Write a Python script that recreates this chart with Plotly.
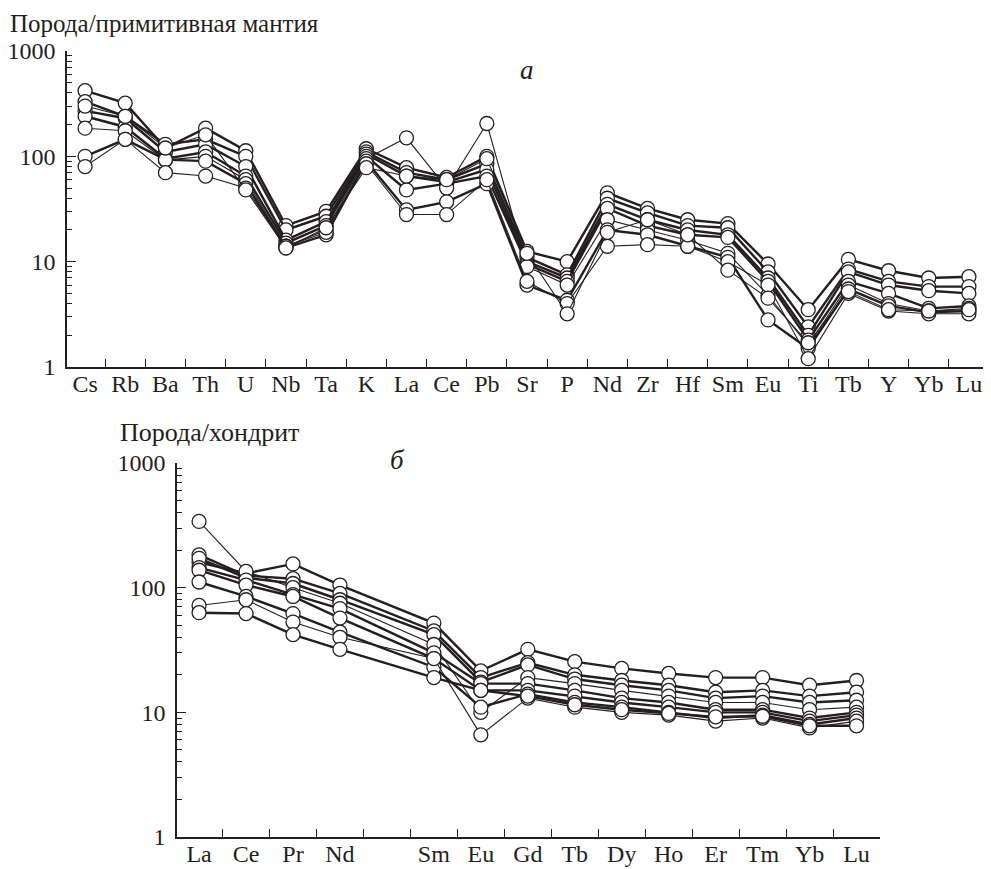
import plotly.graph_objects as go

# ---------------- data: panel а (primitive mantle normalised) ----------------
spider_elements = ["Cs", "Rb", "Ba", "Th", "U", "Nb", "Ta", "K", "La", "Ce", "Pb",
                   "Sr", "P", "Nd", "Zr", "Hf", "Sm", "Eu", "Ti", "Tb", "Y", "Yb", "Lu"]

spider_s1 = [420, 320, 120, 185, 113, 22, 30, 118, 78, 63, 100, 12.5, 10, 45, 32, 25, 23, 9.5, 3.5, 10.5, 8.2, 7.0, 7.2]
spider_s2 = [330, 240, 130, 145, 100, 20, 27, 110, 70, 60, 85, 11, 7.5, 40, 29, 22, 21, 8.0, 2.4, 8.5, 6.5, 5.8, 5.8]
spider_s3 = [270, 230, 110, 130, 80, 16, 24, 105, 65, 57, 75, 10, 7.0, 35, 25, 20, 18, 7.0, 2.0, 8.0, 6.0, 5.3, 5.0]
spider_s4 = [240, 190, 95, 110, 65, 15, 22, 100, 48, 55, 65, 9.5, 6.5, 32, 22, 18, 17, 6.5, 1.8, 6.5, 5.0, 3.6, 3.8]
spider_s5 = [185, 175, 92, 100, 60, 14, 20, 95, 150, 50, 205, 9.0, 6.0, 25, 20, 16, 12, 4.8, 1.6, 6.0, 4.0, 3.4, 3.6]
spider_s6 = [100, 145, 93, 90, 55, 13.5, 18, 90, 31, 37, 55, 6.0, 4.3, 20, 18, 14, 11, 2.8, 1.5, 5.5, 3.8, 3.3, 3.4]
spider_s7 = [80, 145, 70, 65, 50, 14, 19, 85, 28, 28, 60, 6.5, 4.0, 14, 14.5, 14, 10, 6.0, 1.2, 5.0, 3.4, 3.2, 3.2]
spider_s8 = [300, 240, 120, 160, 48, 13.5, 21, 78, 65, 60, 95, 12, 3.2, 19, 25, 18, 8.3, 4.5, 1.7, 5.2, 3.5, 3.4, 3.5]

spider_series = [spider_s1, spider_s2, spider_s3, spider_s4,
                 spider_s5, spider_s6, spider_s7, spider_s8]
spider_widths = [2.4, 2.4, 2.4, 2.4, 1.1, 2.4, 1.1, 1.1]

# ---------------- data: panel б (chondrite normalised REE) ----------------
ree_elements = ["La", "Ce", "Pr", "Nd", "Sm", "Eu", "Gd", "Tb", "Dy", "Ho", "Er", "Tm", "Yb", "Lu"]
ree_slots = [0, 1, 2, 3, 5, 6, 7, 8, 9, 10, 11, 12, 13, 14]   # Pm (slot 4) left empty

ree_b1 = [160, 130, 155, 105, 52, 21.5, 32, 25.5, 22.5, 20.5, 19, 19, 16.5, 18]
ree_b2 = [183, 125, 118, 90, 45, 19, 25, 20, 18, 16.5, 14.5, 15, 13.5, 14.5]
ree_b3 = [172, 120, 108, 80, 42, 17.5, 24, 18.5, 16.5, 15, 13, 13.5, 12, 12.5]
ree_b4 = [340, 135, 100, 75, 35, 10, 19, 17, 15, 13.5, 12, 12, 10.5, 11]
ree_b5 = [145, 115, 88, 68, 30, 17, 17, 15, 13, 12, 10.5, 10.5, 9, 10]
ree_b6 = [138, 105, 85, 57, 27, 15, 15, 13.5, 12, 11, 10, 10, 8.5, 9.5]
ree_b7 = [111, 85, 62, 44, 23, 11, 14, 12, 11, 10, 9, 9.5, 8, 9]
ree_b8 = [72, 80, 53, 40, 27, 6.6, 13, 11, 10, 9.5, 8.5, 9, 7.5, 8.5]
ree_b9 = [63, 62, 42, 32, 19, 15, 13.5, 11.5, 10.5, 9.8, 9.2, 9.3, 7.8, 7.8]

ree_series = [ree_b1, ree_b2, ree_b3, ree_b4, ree_b5, ree_b6, ree_b7, ree_b8, ree_b9]
ree_widths = [2.4, 2.4, 2.4, 1.1, 2.4, 2.4, 2.4, 1.1, 2.4]

# ---------------- figure ----------------
OFF = 8                      # default page body margin
W, H = 991 - OFF, 869 - OFF
FONT = "Liberation Serif"
INK = "#231f20"

fig = go.Figure()

marker = dict(symbol="circle", size=14, color="white", line=dict(color=INK, width=1.3))

for vals, w in zip(spider_series, spider_widths):
    fig.add_trace(go.Scatter(x=list(range(len(spider_elements))), y=vals,
                             mode="lines+markers", line=dict(color=INK, width=w),
                             marker=marker, xaxis="x", yaxis="y",
                             showlegend=False, hoverinfo="skip"))

for vals, w in zip(ree_series, ree_widths):
    fig.add_trace(go.Scatter(x=ree_slots, y=vals,
                             mode="lines+markers", line=dict(color=INK, width=w),
                             marker=marker, xaxis="x2", yaxis="y2",
                             showlegend=False, hoverinfo="skip"))


def px_x(p):
    return (p - OFF) / W


def px_y(p):
    return 1 - (p - OFF) / H


common_y = dict(type="log", range=[0, 3], tickvals=[1, 10, 100, 1000],
                ticktext=["1", "10", "100", "1000"],
                ticks="inside", ticklen=9, tickwidth=1.4, tickcolor=INK,
                minor=dict(ticks="inside", ticklen=5, tickwidth=1.2, tickcolor=INK,
                           dtick="D1", showgrid=False),
                showline=True, linecolor=INK, linewidth=1.6,
                showgrid=False, zeroline=False, automargin=False,
                tickfont=dict(family=FONT, size=24, color=INK),
                ticklabelstandoff=5)

common_x = dict(ticks="", showline=True, linecolor=INK, linewidth=1.6,
                showgrid=False, zeroline=False, automargin=False,
                tickfont=dict(family=FONT, size=24, color=INK),
                ticklabelstandoff=-6)

n_a = len(spider_elements)
fig.update_layout(
    width=W, height=H,
    margin=dict(l=0, r=0, t=0, b=0),
    paper_bgcolor="white", plot_bgcolor="white",
    xaxis=dict(domain=[px_x(67), 1.0], range=[-0.45, n_a - 0.45],
               tickmode="array", tickvals=list(range(n_a)), ticktext=spider_elements,
               minor=dict(tickmode="array", tickvals=[i + 0.5 for i in range(n_a - 1)],
                          ticks="inside", ticklen=8, tickwidth=1.4, tickcolor=INK, showgrid=False),
               anchor="y", **common_x),
    yaxis=dict(domain=[px_y(367), px_y(51)], anchor="x", **common_y),
    xaxis2=dict(domain=[px_x(177), px_x(880)], range=[-0.47, 14.5],
                tickmode="array", tickvals=ree_slots, ticktext=ree_elements,
                minor=dict(tickmode="array", tickvals=[i + 0.5 for i in range(14)],
                           ticks="inside", ticklen=8, tickwidth=1.4, tickcolor=INK, showgrid=False),
                anchor="y2", **common_x),
    yaxis2=dict(domain=[px_y(837), px_y(463)], anchor="x2", **common_y),
    annotations=[
        dict(text="Порода/примитивная мантия", x=px_x(8), y=px_y(24), xref="paper", yref="paper",
             xanchor="left", yanchor="middle", showarrow=False,
             font=dict(family=FONT, size=25, color=INK)),
        dict(text="<i>а</i>", x=px_x(527), y=px_y(70), xref="paper", yref="paper",
             xanchor="center", yanchor="middle", showarrow=False,
             font=dict(family=FONT, size=27, color=INK)),
        dict(text="Порода/хондрит", x=px_x(118), y=px_y(433), xref="paper", yref="paper",
             xanchor="left", yanchor="middle", showarrow=False,
             font=dict(family=FONT, size=26, color=INK)),
        dict(text="<i>б</i>", x=px_x(397), y=px_y(460), xref="paper", yref="paper",
             xanchor="center", yanchor="middle", showarrow=False,
             font=dict(family=FONT, size=27, color=INK)),
    ],
)

fig.write_html("out.html")
